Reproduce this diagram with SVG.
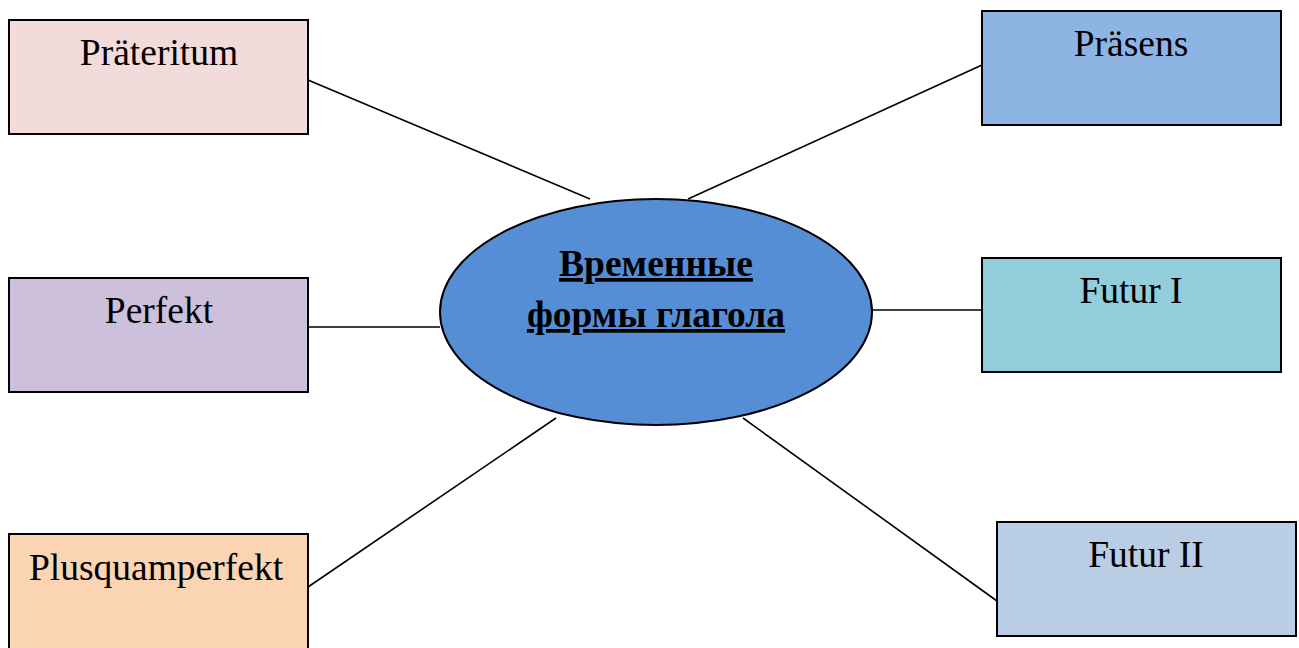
<svg xmlns="http://www.w3.org/2000/svg" width="1299" height="648" viewBox="0 0 1299 648">
<style>
.box{stroke:#000;stroke-width:2}
.lbl{font-family:"Liberation Serif","Times New Roman",serif;font-size:37.5px;fill:#000;text-anchor:middle}
.hub{font-family:"Liberation Serif","Times New Roman",serif;font-size:37.5px;font-weight:bold;fill:#000;text-anchor:middle;text-decoration:underline}
.conn line{stroke:#000;stroke-width:1.6}
</style>
<rect width="1299" height="648" fill="#fff"/>
<g class="conn" id="connectors">
<line x1="308" y1="80" x2="590" y2="199"/>
<line x1="982" y1="65" x2="688" y2="199"/>
<line x1="308" y1="327" x2="440" y2="327"/>
<line x1="872" y1="310" x2="982" y2="310"/>
<line x1="308" y1="587" x2="556" y2="418"/>
<line x1="743" y1="418" x2="997" y2="601"/>
</g>
<g id="praeteritum">
<rect class="box" x="9" y="20" width="299" height="114" fill="#F2DCDB"/>
<text class="lbl" x="159" y="65">Präteritum</text>
</g>
<g id="praesens">
<rect class="box" x="982" y="11" width="299" height="114" fill="#8EB4E3"/>
<text class="lbl" x="1131" y="56">Präsens</text>
</g>
<g id="perfekt">
<rect class="box" x="9" y="278" width="299" height="114" fill="#CCC0DA"/>
<text class="lbl" x="159" y="323">Perfekt</text>
</g>
<g id="futur1">
<rect class="box" x="982" y="258" width="299" height="114" fill="#92CDDC"/>
<text class="lbl" x="1131" y="303">Futur I</text>
</g>
<g id="plusquamperfekt">
<rect class="box" x="9" y="534" width="299" height="120" fill="#FBD4B4"/>
<text class="lbl" x="156" y="580">Plusquamperfekt</text>
</g>
<g id="futur2">
<rect class="box" x="997" y="522" width="299" height="114" fill="#B9CDE5"/>
<text class="lbl" x="1146" y="567">Futur II</text>
</g>
<g id="center">
<ellipse cx="656" cy="312" rx="216" ry="113" fill="#558ED5" stroke="#000" stroke-width="2"/>
<text class="hub" x="656" y="276">Временные</text>
<text class="hub" x="656" y="327">формы глагола</text>
</g>
</svg>
